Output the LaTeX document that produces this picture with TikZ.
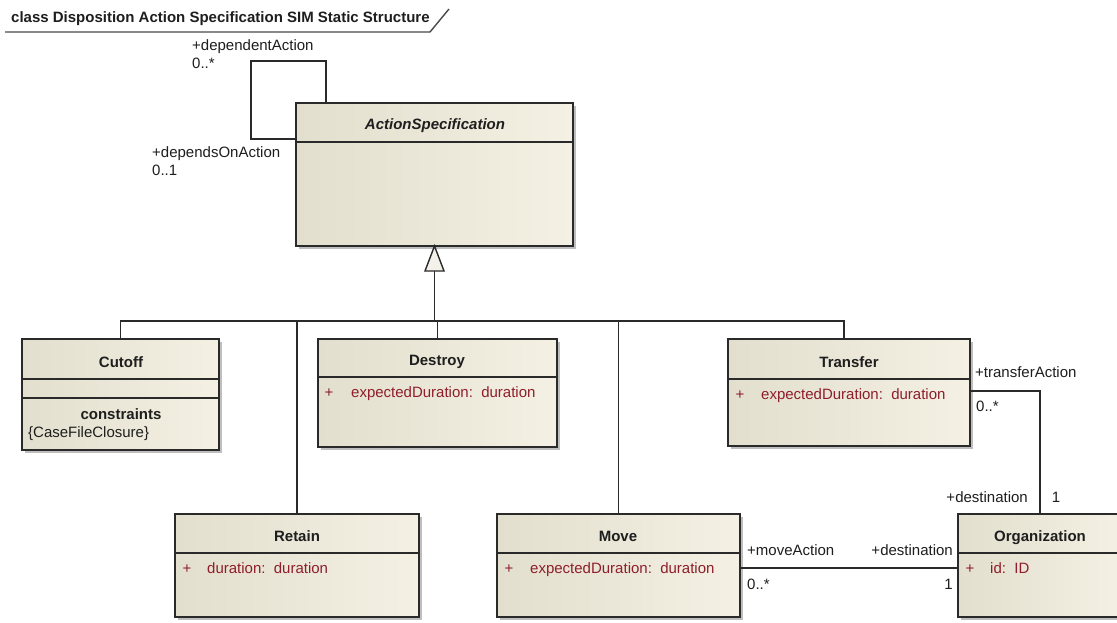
\documentclass[tikz,border=0pt]{standalone}
\usepackage{fontspec}
\setmainfont{Liberation Sans}
\usetikzlibrary{calc}
\definecolor{boxL}{HTML}{E3DFCE}
\definecolor{boxR}{HTML}{F4F0E3}
\definecolor{edge}{HTML}{2A2A2A}
\definecolor{shade}{HTML}{BEBEBE}
\definecolor{lblc}{HTML}{1E1E1E}
\definecolor{attrc}{HTML}{8E1E2C}
\definecolor{trifill}{HTML}{F3F1EA}
\tikzset{
  classbox/.style={draw=edge, line width=1.6pt, left color=boxL, right color=boxR, inner sep=0pt, outer sep=0pt},
  shadowc/.style={fill=shade},
  conn/.style={draw=edge, line width=1.4pt},
  lbl/.style={font=\fontsize{15}{18}\selectfont, text=lblc, inner sep=0pt},
  attr/.style={font=\fontsize{15}{18}\selectfont, text=attrc, inner sep=0pt},
  cname/.style={font=\fontsize{15}{18}\selectfont\bfseries, text=lblc, inner sep=0pt},
}
\newcommand\UMLclass[6]{%
  \fill[shadowc] ({#2+3},{#3+3}) rectangle ({#4+3},{#5+3});
  \node[classbox, anchor=north west, minimum width={#4pt-#2pt}, minimum height={#5pt-#3pt}] (#1) at (#2,#3) {};
  \draw[draw=edge, line width=1.6pt] (#2,#6) -- (#4,#6);
}
\begin{document}
\begin{tikzpicture}[x=1pt,y=-1pt]
\useasboundingbox (0,0) rectangle (1117,622);
\clip (0,0) rectangle (1117,622);
\fill[white] (0,0) rectangle (1117,622);

% frame title
\node[cname, anchor=base west] (title) at (11,22.5) {class Disposition Action Specification SIM Static Structure};
\coordinate (tA) at (5,32);
\coordinate (tB) at (430,32);
\coordinate (tC) at (449,9);
\draw[draw=edge!85, line width=1.4pt] (tA) -- (tB) -- (tC);

% classes
\UMLclass{ActSpec}{296}{103}{573}{246}{142}
\UMLclass{Cutoff}{22}{339}{219}{450}{379}
\draw[draw=edge, line width=1.6pt] (22,398) -- (219,398);
\UMLclass{Destroy}{318}{339}{557}{447}{377}
\UMLclass{Transfer}{728}{339}{970}{446}{379}
\UMLclass{Retain}{175}{514}{419}{617}{553}
\UMLclass{Move}{497}{514}{740}{617}{553}
\UMLclass{Org}{958}{514}{1122}{617}{553}

% self association
\coordinate (la) at ($(ActSpec.north west)+(30,0)$);
\coordinate (lb) at ($(ActSpec.north west)+(0,36)$);
\draw[conn] (la) -- ++(0,-42) -| ($(lb)+(-45,0)$) -- (lb);

% generalization
\coordinate (tri) at ($(ActSpec.south)+(0,25)$);
\coordinate (busc) at ($(ActSpec.south)+(0,75)$);
\draw[conn, fill=trifill] (ActSpec.south) -- ($(tri)+(-9.5,0)$) -- ($(tri)+(9.5,0)$) -- cycle;
\draw[conn] (tri) -- (busc);
\coordinate (trTop) at ($(Transfer.north)+(-5,0)$);
\draw[conn] (Cutoff.north) -- (Cutoff.north |- busc) -- (trTop |- busc) -- (trTop);
\draw[conn] (Destroy.north) -- (Destroy.north |- busc);
\draw[conn] (Retain.north) -- (Retain.north |- busc);
\draw[conn] (Move.north) -- (Move.north |- busc);

% associations
\coordinate (trOut) at ($(Transfer.north east)+(0,52)$);
\draw[conn] (trOut) -| (Org.north);
\coordinate (mvOut) at ($(Move.north east)+(0,54)$);
\coordinate (orIn) at ($(Org.north west)+(0,54)$);
\draw[conn] (mvOut) -- (orIn);

% association labels
\node[lbl, anchor=base west] (lDepA) at (192,50.5) {+dependentAction};
\node[lbl, anchor=base west] (lDepAm) at (192,68.5) {0..*};
\node[lbl, anchor=base west] (lDepOn) at (152,157.5) {+dependsOnAction};
\node[lbl, anchor=base west] (lDepOnm) at (152,175.5) {0..1};
\node[lbl, anchor=base west] (lTrA) at (975,377.5) {+transferAction};
\node[lbl, anchor=base west] (lTrAm) at (976,411.5) {0..*};
\node[lbl, anchor=base east] (lDest1) at (1028,502) {+destination};
\node[lbl, anchor=base] (lDest1m) at (1056,502) {1};
\node[lbl, anchor=base west] (lMvA) at (747,555.5) {+moveAction};
\node[lbl, anchor=base west] (lMvAm) at (747,589.5) {0..*};
\node[lbl, anchor=base east] (lDest2) at (953,555.5) {+destination};
\node[lbl, anchor=base east] (lDest2m) at (953,589.5) {1};

% class names
\node[cname, anchor=base, font=\fontsize{15}{18}\selectfont\bfseries\itshape] (nAct) at (435,129.5) {ActionSpecification};
\node[cname, anchor=base] (nCut) at (121,367) {Cutoff};
\node[cname, anchor=base] (nCons) at (121,419.5) {constraints};
\node[lbl, anchor=base west] (nCFC) at (28,437.5) {\{CaseFileClosure\}};
\node[cname, anchor=base] (nDes) at (437,365.5) {Destroy};
\node[cname, anchor=base] (nTra) at (849,367.5) {Transfer};
\node[cname, anchor=base] (nRet) at (297,541.5) {Retain};
\node[cname, anchor=base] (nMov) at (618,541.5) {Move};
\node[cname, anchor=base] (nOrg) at (1040,541.5) {Organization};

% attributes
\node[attr, anchor=base] (pDes) at (329,397.5) {+};
\node[attr, anchor=base west] (aDes) at (351,397.5) {expectedDuration:~~duration};
\node[attr, anchor=base] (pTra) at (740,399.5) {+};
\node[attr, anchor=base west] (aTra) at (761,399.5) {expectedDuration:~~duration};
\node[attr, anchor=base] (pRet) at (187,573.5) {+};
\node[attr, anchor=base west] (aRet) at (207,573.5) {duration:~~duration};
\node[attr, anchor=base] (pMov) at (509,573.5) {+};
\node[attr, anchor=base west] (aMov) at (530,573.5) {expectedDuration:~~duration};
\node[attr, anchor=base] (pOrg) at (970,573.5) {+};
\node[attr, anchor=base west] (aOrg) at (990,573.5) {id:~~ID};
\end{tikzpicture}
\end{document}
